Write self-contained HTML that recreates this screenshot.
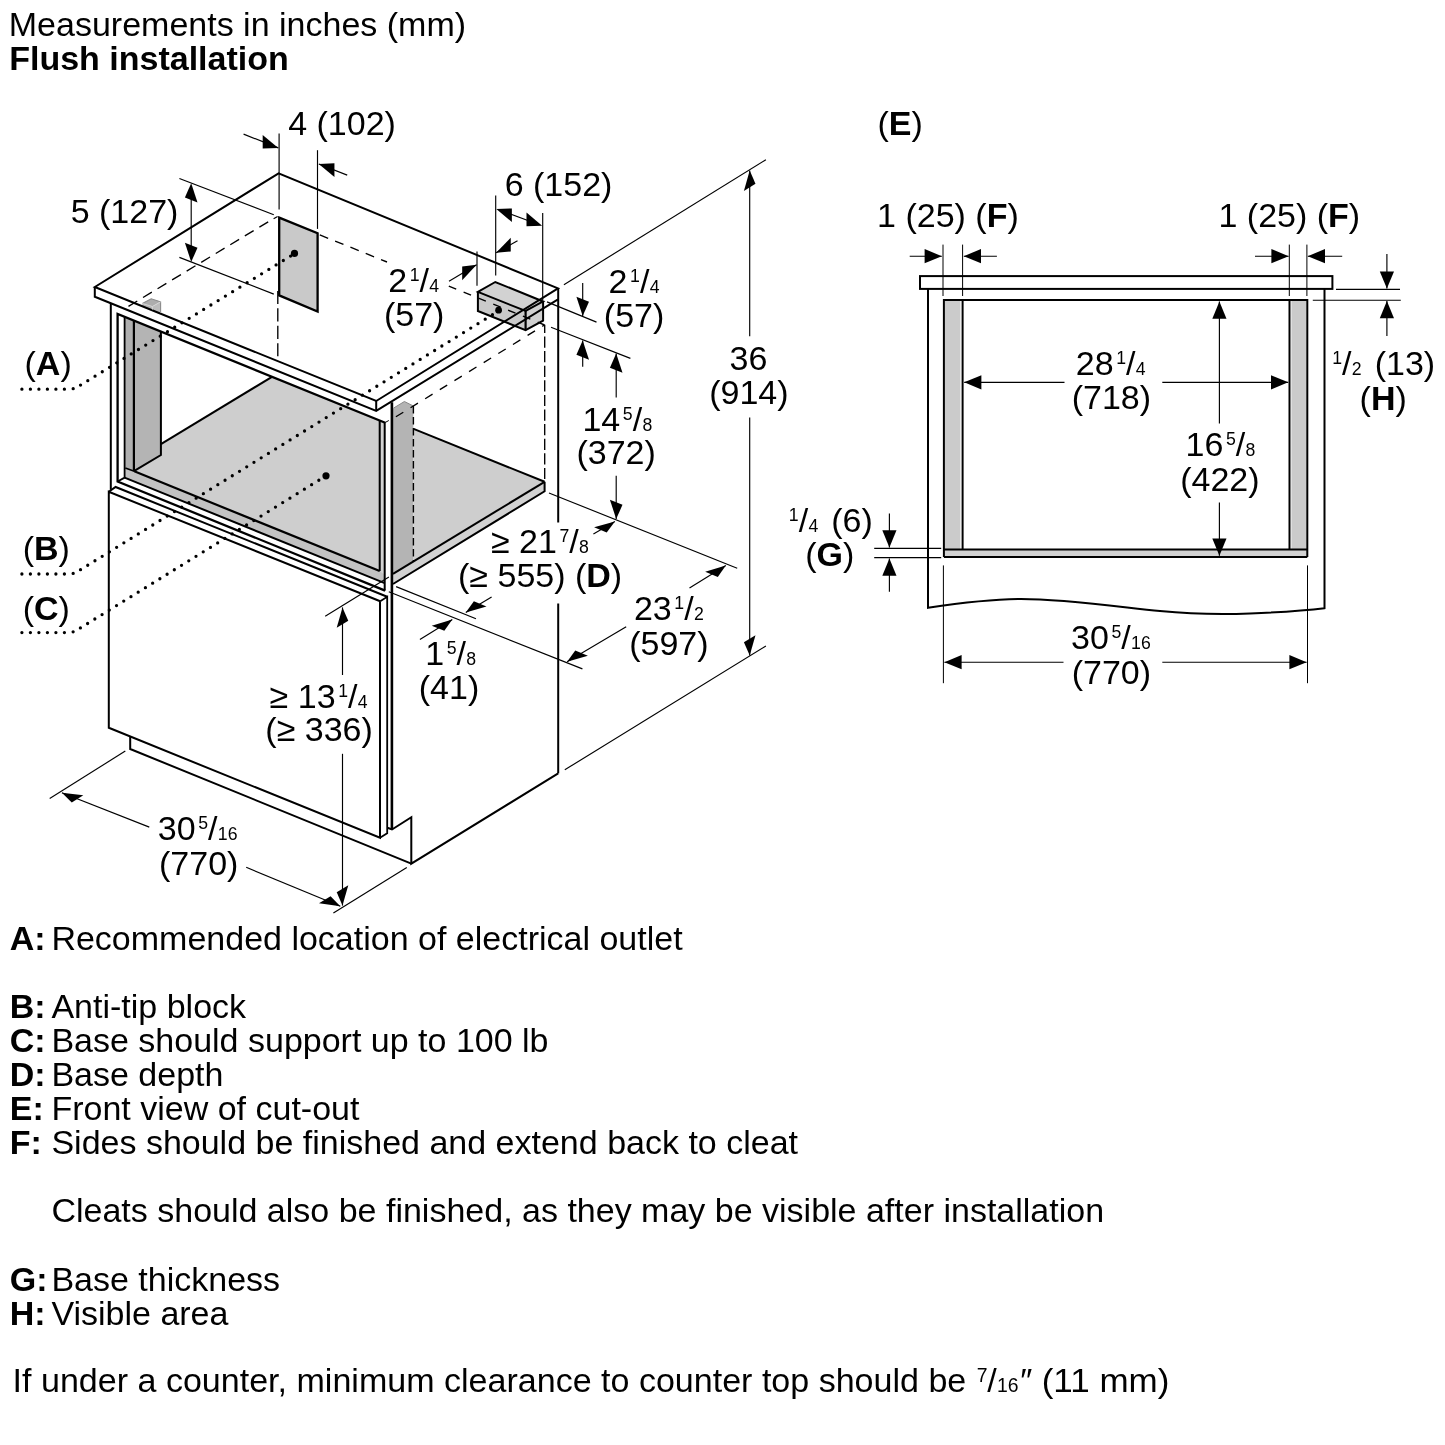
<!DOCTYPE html>
<html><head><meta charset="utf-8"><title>Flush installation</title>
<style>
html,body{margin:0;padding:0;background:#fff;}
svg{display:block;}
text{font-family:"Liberation Sans",sans-serif;fill:#000;white-space:pre;}
</style></head><body>
<svg width="1445" height="1445" viewBox="0 0 1445 1445">
<rect width="1445" height="1445" fill="#fff"/>
<g id="iso">
<polygon points="279.20,217.60 317.60,233.30 317.60,311.60 279.20,295.40" fill="#c9c9c9" stroke="none"/>
<polygon points="161.00,444.20 272.00,376.80 379.70,420.80 379.70,571.10 134.30,471.20 161.00,455.20" fill="#cecece" stroke="none"/>
<polygon points="125.30,467.80 134.30,471.20 379.70,571.10 384.70,573.20 384.70,583.10 124.60,477.50" fill="#c2c2c2" stroke="none"/>
<polygon points="379.70,421.00 384.70,423.00 384.70,575.00 379.70,571.10" fill="#d4d4d4" stroke="none"/>
<polygon points="124.60,316.70 133.90,320.50 133.90,471.10 125.30,467.80 124.60,467.50" fill="#b0b0b0" stroke="none"/>
<polygon points="133.90,320.50 160.90,331.50 160.90,455.20 133.90,471.10" fill="#b4b4b4" stroke="none"/>
<polygon points="142.40,303.50 151.20,298.80 160.60,301.80 152.40,306.50" fill="#adadad" stroke="none"/>
<polygon points="152.40,306.50 160.60,301.80 160.60,314.00 152.40,317.00" fill="#bcbcbc" stroke="none"/>
<polygon points="142.40,303.50 152.40,306.50 152.40,317.00 142.40,312.00" fill="#b4b4b4" stroke="none"/>
<polygon points="393.00,408.40 404.40,401.50 413.40,406.00 413.40,561.30 393.00,573.80" fill="#b4b4b4" stroke="none"/>
<polygon points="413.40,429.00 544.60,481.80 413.40,561.30" fill="#cecece" stroke="none"/>
<polygon points="544.60,481.80 544.60,491.30 393.00,584.00 393.00,573.80" fill="#d2d2d2" stroke="none"/>
<polygon points="477.90,291.90 495.30,282.00 543.10,301.50 525.60,311.00" fill="#d2d2d2" stroke="none"/>
<polygon points="477.90,291.90 525.60,311.00 525.60,330.10 477.90,311.00" fill="#cacaca" stroke="none"/>
<polygon points="525.60,311.00 543.10,301.50 543.10,320.60 525.60,330.10" fill="#d0d0d0" stroke="none"/>
<polygon points="94.80,287.00 376.20,401.00 376.20,410.90 94.80,296.80" fill="#fff" stroke="none"/>
<polygon points="94.80,287.00 278.60,173.30 558.00,288.40 376.20,401.00" fill="none" stroke="#000" stroke-width="2.0" stroke-linejoin="miter"/>
<polyline points="94.80,287.00 94.80,296.80 376.20,410.90 558.00,299.40" fill="none" stroke="#000" stroke-width="2.0" stroke-linejoin="miter"/>
<line x1="376.20" y1="401.00" x2="376.20" y2="410.90" stroke="#000" stroke-width="2.0"/>
<line x1="558.20" y1="288.40" x2="558.20" y2="522.50" stroke="#000" stroke-width="2.0"/>
<line x1="558.20" y1="603.50" x2="558.20" y2="773.40" stroke="#000" stroke-width="2.0"/>
<polyline points="558.20,773.40 411.30,863.60 411.30,817.20 392.00,829.50 387.40,827.70" fill="none" stroke="#000" stroke-width="2.0" stroke-linejoin="miter"/>
<polyline points="411.30,863.60 130.20,749.00 130.20,737.00" fill="none" stroke="#000" stroke-width="2.0" stroke-linejoin="miter"/>
<line x1="110.80" y1="303.30" x2="110.80" y2="489.80" stroke="#000" stroke-width="2.0"/>
<polyline points="385.20,422.80 117.60,313.90 117.60,481.50 385.10,590.60" fill="none" stroke="#000" stroke-width="2.3" stroke-linejoin="miter"/>
<polyline points="124.60,316.80 124.60,477.60 117.60,481.50" fill="none" stroke="#000" stroke-width="1.8" stroke-linejoin="miter"/>
<line x1="133.90" y1="320.50" x2="133.90" y2="471.10" stroke="#000" stroke-width="2.2"/>
<polyline points="133.90,471.10 160.90,455.00 160.90,331.60" fill="none" stroke="#000" stroke-width="2.0" stroke-linejoin="miter"/>
<line x1="125.30" y1="467.90" x2="134.30" y2="471.30" stroke="#000" stroke-width="1.6"/>
<line x1="160.90" y1="444.20" x2="272.00" y2="376.80" stroke="#000" stroke-width="2.0"/>
<line x1="134.30" y1="471.30" x2="379.70" y2="571.10" stroke="#000" stroke-width="2.2"/>
<line x1="124.60" y1="477.60" x2="384.70" y2="583.10" stroke="#000" stroke-width="2.0"/>
<line x1="379.70" y1="420.90" x2="379.70" y2="571.10" stroke="#000" stroke-width="2.0"/>
<line x1="384.70" y1="422.80" x2="384.70" y2="590.60" stroke="#000" stroke-width="2.0"/>
<polyline points="108.80,491.80 115.60,487.00 387.20,596.80" fill="none" stroke="#000" stroke-width="2.0" stroke-linejoin="miter"/>
<polyline points="380.20,601.20 108.80,491.80 108.80,727.80 380.00,837.80 380.00,601.20" fill="none" stroke="#000" stroke-width="2.0" stroke-linejoin="miter"/>
<polyline points="380.20,601.20 387.20,596.80 387.20,833.20 380.00,837.80" fill="none" stroke="#000" stroke-width="1.8" stroke-linejoin="miter"/>
<line x1="391.90" y1="402.20" x2="391.90" y2="829.40" stroke="#000" stroke-width="2.6"/>
<polyline points="393.40,408.20 404.40,401.50 413.40,406.00" fill="none" stroke="#888" stroke-width="1.0" stroke-linejoin="miter"/>
<line x1="413.40" y1="406.00" x2="413.40" y2="561.00" stroke="#000" stroke-width="1.4" stroke-dasharray="7.5 3.5"/>
<line x1="413.60" y1="428.90" x2="544.60" y2="481.80" stroke="#000" stroke-width="2.0"/>
<polyline points="544.60,481.80 544.60,491.30 393.00,584.00" fill="none" stroke="#000" stroke-width="2.0" stroke-linejoin="miter"/>
<line x1="544.60" y1="481.80" x2="393.00" y2="573.80" stroke="#000" stroke-width="2.0"/>
<line x1="385.00" y1="422.60" x2="388.80" y2="420.50" stroke="#000" stroke-width="1.0"/>
<polyline points="142.40,303.50 151.20,298.80 160.60,301.80 160.60,313.00" fill="none" stroke="#8a8a8a" stroke-width="1.1" stroke-linejoin="miter"/>
<polyline points="142.40,303.50 152.40,306.50 160.60,301.80" fill="none" stroke="#d4d4d4" stroke-width="1.0" stroke-linejoin="miter"/>
<line x1="152.40" y1="306.50" x2="152.40" y2="309.60" stroke="#d4d4d4" stroke-width="1.0"/>
<polygon points="279.20,217.60 317.60,233.30 317.60,311.60 279.20,295.40" fill="none" stroke="#000" stroke-width="2.3" stroke-linejoin="miter"/>
<polygon points="477.90,291.90 495.30,282.00 543.10,301.50 525.60,311.00" fill="none" stroke="#000" stroke-width="2.0" stroke-linejoin="miter"/>
<polyline points="477.90,291.90 477.90,311.00 525.60,330.10 543.10,320.60 543.10,301.50" fill="none" stroke="#000" stroke-width="2.0" stroke-linejoin="miter"/>
<line x1="525.60" y1="311.00" x2="525.60" y2="330.10" stroke="#000" stroke-width="2.2"/>
<circle cx="498.6" cy="310.2" r="3.4" fill="#000"/>
<line x1="268.20" y1="221.80" x2="127.50" y2="306.90" stroke="#000" stroke-width="1.35" stroke-dasharray="10.3 6.7"/>
<line x1="277.60" y1="216.40" x2="273.60" y2="218.80" stroke="#000" stroke-width="1.15"/>
<line x1="319.80" y1="234.90" x2="387.00" y2="262.00" stroke="#000" stroke-width="1.35" stroke-dasharray="9 7.5"/>
<line x1="448.80" y1="286.10" x2="544.50" y2="325.00" stroke="#000" stroke-width="1.35" stroke-dasharray="8 8"/>
<line x1="277.80" y1="290.90" x2="277.80" y2="360.60" stroke="#000" stroke-width="1.35" stroke-dasharray="13.1 4.35"/>
<line x1="544.7" y1="324.8" x2="544.7" y2="481.7" stroke="#000" stroke-width="1.35" stroke-dasharray="11.2 3.4" stroke-dashoffset="2.9"/>
<line x1="395.90" y1="416.80" x2="544.50" y2="325.00" stroke="#000" stroke-width="1.35" stroke-dasharray="8.7 8.5"/>
</g>
<g id="leaders" fill="none" stroke="#000" stroke-width="3.3" stroke-linecap="round" stroke-dasharray="0 8.5">
<path d="M21.9,389.2 L68,389.2 Q73,389.2 76.5,387.6 L294.6,253.6"/>
<path d="M21.9,574 L68,574 Q73,574 76.5,572.2 L498.4,311"/>
<path d="M21.9,632.6 L67,632.6 Q72,632.6 75.5,631 L326,475.8"/>
</g>
<circle cx="294.5" cy="253.4" r="3.6" fill="#000"/>
<circle cx="326" cy="475.8" r="3.6" fill="#000"/>
<g id="dimsL">
<line x1="279.10" y1="133.40" x2="279.10" y2="209.50" stroke="#000" stroke-width="1.15"/>
<line x1="317.50" y1="150.20" x2="317.50" y2="228.90" stroke="#000" stroke-width="1.15"/>
<line x1="243.60" y1="134.10" x2="278.30" y2="147.90" stroke="#000" stroke-width="1.15"/>
<polygon points="278.30,147.90 262.69,148.49 262.69,134.89" fill="#000" stroke="none"/>
<line x1="347.20" y1="175.10" x2="318.80" y2="164.00" stroke="#000" stroke-width="1.15"/>
<polygon points="318.80,164.00 334.45,176.92 334.45,163.32" fill="#000" stroke="none"/>
<line x1="179.40" y1="178.50" x2="273.80" y2="214.80" stroke="#000" stroke-width="1.15"/>
<line x1="179.40" y1="257.40" x2="273.80" y2="294.10" stroke="#000" stroke-width="1.15"/>
<line x1="191.20" y1="190.00" x2="191.20" y2="255.00" stroke="#000" stroke-width="1.15"/>
<polygon points="191.20,183.20 197.50,202.55 184.90,197.45" fill="#000" stroke="none"/>
<polygon points="191.20,262.00 197.50,247.75 184.90,242.65" fill="#000" stroke="none"/>
<line x1="495.70" y1="195.50" x2="495.70" y2="275.40" stroke="#000" stroke-width="1.15"/>
<line x1="542.70" y1="213.00" x2="542.70" y2="300.00" stroke="#000" stroke-width="1.15"/>
<line x1="477.00" y1="251.60" x2="477.00" y2="285.80" stroke="#000" stroke-width="1.15"/>
<line x1="500.00" y1="210.20" x2="538.00" y2="224.20" stroke="#000" stroke-width="1.15"/>
<polygon points="496.30,208.90 511.87,222.02 511.87,208.42" fill="#000" stroke="none"/>
<polygon points="542.10,225.70 526.53,226.18 526.53,212.58" fill="#000" stroke="none"/>
<line x1="517.50" y1="240.80" x2="496.10" y2="252.80" stroke="#000" stroke-width="1.15"/>
<polygon points="496.10,252.80 510.75,251.38 510.75,237.78" fill="#000" stroke="none"/>
<line x1="449.00" y1="281.20" x2="476.60" y2="264.80" stroke="#000" stroke-width="1.15"/>
<polygon points="476.60,264.80 462.16,280.18 462.16,266.58" fill="#000" stroke="none"/>
<line x1="547.00" y1="301.90" x2="596.50" y2="322.10" stroke="#000" stroke-width="1.15"/>
<line x1="551.00" y1="327.30" x2="630.40" y2="358.40" stroke="#000" stroke-width="1.15"/>
<line x1="582.70" y1="283.00" x2="582.70" y2="316.00" stroke="#000" stroke-width="1.15"/>
<polygon points="582.70,316.00 589.00,301.75 576.40,296.65" fill="#000" stroke="none"/>
<line x1="582.70" y1="366.70" x2="582.70" y2="340.40" stroke="#000" stroke-width="1.15"/>
<polygon points="582.70,340.40 589.00,359.75 576.40,354.65" fill="#000" stroke="none"/>
<line x1="616.20" y1="397.40" x2="616.20" y2="353.40" stroke="#000" stroke-width="1.15"/>
<polygon points="616.20,353.40 622.50,372.75 609.90,367.65" fill="#000" stroke="none"/>
<line x1="616.20" y1="475.80" x2="616.20" y2="519.00" stroke="#000" stroke-width="1.15"/>
<polygon points="616.20,519.00 622.50,504.75 609.90,499.65" fill="#000" stroke="none"/>
<line x1="549.00" y1="493.00" x2="737.20" y2="568.20" stroke="#000" stroke-width="1.15"/>
<line x1="563.90" y1="284.70" x2="765.90" y2="159.70" stroke="#000" stroke-width="1.15"/>
<line x1="749.70" y1="336.20" x2="749.70" y2="170.60" stroke="#000" stroke-width="1.15"/>
<polygon points="749.70,170.60 755.49,183.83 743.91,190.97" fill="#000" stroke="none"/>
<line x1="749.70" y1="417.40" x2="749.70" y2="655.60" stroke="#000" stroke-width="1.15"/>
<polygon points="749.70,655.60 755.49,635.23 743.91,642.37" fill="#000" stroke="none"/>
<line x1="765.90" y1="646.00" x2="564.80" y2="769.80" stroke="#000" stroke-width="1.15"/>
<line x1="593.40" y1="534.00" x2="614.90" y2="521.40" stroke="#000" stroke-width="1.15"/>
<polygon points="614.90,521.40 606.71,532.45 594.10,527.34" fill="#000" stroke="none"/>
<line x1="396.10" y1="586.60" x2="476.00" y2="618.80" stroke="#000" stroke-width="1.15"/>
<line x1="491.60" y1="597.00" x2="465.80" y2="612.60" stroke="#000" stroke-width="1.15"/>
<polygon points="465.80,612.60 486.48,606.46 473.87,601.35" fill="#000" stroke="none"/>
<line x1="388.80" y1="591.80" x2="582.40" y2="668.90" stroke="#000" stroke-width="1.15"/>
<line x1="419.90" y1="639.50" x2="452.30" y2="619.40" stroke="#000" stroke-width="1.15"/>
<polygon points="452.30,619.40 444.33,630.81 431.72,625.70" fill="#000" stroke="none"/>
<line x1="689.50" y1="587.90" x2="725.80" y2="565.60" stroke="#000" stroke-width="1.15"/>
<polygon points="725.80,565.60 717.79,576.95 705.18,571.84" fill="#000" stroke="none"/>
<line x1="626.20" y1="626.70" x2="567.10" y2="661.70" stroke="#000" stroke-width="1.15"/>
<polygon points="567.10,661.70 587.86,655.69 575.25,650.59" fill="#000" stroke="none"/>
<line x1="325.20" y1="616.20" x2="388.90" y2="576.90" stroke="#000" stroke-width="1.15"/>
<line x1="342.50" y1="675.00" x2="342.50" y2="607.40" stroke="#000" stroke-width="1.15"/>
<polygon points="342.50,607.40 348.29,620.63 336.71,627.77" fill="#000" stroke="none"/>
<line x1="342.50" y1="753.80" x2="342.50" y2="905.60" stroke="#000" stroke-width="1.15"/>
<polygon points="342.50,905.60 348.29,885.23 336.71,892.37" fill="#000" stroke="none"/>
<line x1="406.80" y1="867.50" x2="333.40" y2="912.90" stroke="#000" stroke-width="1.15"/>
<line x1="125.30" y1="751.00" x2="49.70" y2="798.60" stroke="#000" stroke-width="1.15"/>
<line x1="149.30" y1="827.10" x2="61.90" y2="792.80" stroke="#000" stroke-width="1.15"/>
<polygon points="61.90,792.80 83.33,795.37 71.75,802.51" fill="#000" stroke="none"/>
<line x1="246.20" y1="867.30" x2="340.30" y2="906.20" stroke="#000" stroke-width="1.15"/>
<polygon points="340.30,906.20 330.56,896.21 318.99,903.35" fill="#000" stroke="none"/>
</g>
<g id="front">
<polygon points="945.00,301.00 960.40,301.00 960.40,549.30 945.00,549.30" fill="#cbcbcb" stroke="none"/>
<polygon points="1291.40,301.00 1306.40,301.00 1306.40,549.30 1291.40,549.30" fill="#cbcbcb" stroke="none"/>
<polygon points="944.00,549.30 1307.30,549.30 1307.30,557.00 944.00,557.00" fill="#d2d2d2" stroke="none"/>
<rect x="920" y="276.1" width="412.4" height="12.8" fill="none" stroke="#000" stroke-width="2"/>
<path d="M928,289 L928,607.8 C960,603 990,599 1021,599 C1065,599 1120,607 1160,611 C1190,614 1222,614.6 1250,613.5 C1285,612 1310,610 1324.5,608.2 L1324.5,289" fill="none" stroke="#000" stroke-width="2"/>
<polyline points="943.90,557.00 943.90,300.00 1307.30,300.00 1307.30,557.00" fill="none" stroke="#000" stroke-width="2.0" stroke-linejoin="miter"/>
<line x1="943.90" y1="557.00" x2="1307.30" y2="557.00" stroke="#000" stroke-width="2.0"/>
<line x1="943.90" y1="549.40" x2="1307.30" y2="549.40" stroke="#000" stroke-width="2.0"/>
<line x1="962.60" y1="300.00" x2="962.60" y2="549.40" stroke="#000" stroke-width="2.0"/>
<line x1="1289.50" y1="300.00" x2="1289.50" y2="549.40" stroke="#000" stroke-width="2.0"/>
</g>
<g id="dimsR">
<line x1="943.00" y1="244.60" x2="943.00" y2="296.00" stroke="#000" stroke-width="1.0"/>
<line x1="962.60" y1="244.60" x2="962.60" y2="296.00" stroke="#000" stroke-width="1.0"/>
<line x1="909.70" y1="256.20" x2="941.80" y2="256.20" stroke="#000" stroke-width="1.15"/>
<polygon points="941.80,256.20 924.60,263.30 924.60,249.10" fill="#000" stroke="none"/>
<line x1="996.90" y1="256.20" x2="963.80" y2="256.20" stroke="#000" stroke-width="1.15"/>
<polygon points="963.80,256.20 981.00,249.10 981.00,263.30" fill="#000" stroke="none"/>
<line x1="1289.30" y1="244.60" x2="1289.30" y2="296.00" stroke="#000" stroke-width="1.0"/>
<line x1="1306.90" y1="244.60" x2="1306.90" y2="296.00" stroke="#000" stroke-width="1.0"/>
<line x1="1255.00" y1="256.20" x2="1288.60" y2="256.20" stroke="#000" stroke-width="1.15"/>
<polygon points="1288.60,256.20 1271.40,263.30 1271.40,249.10" fill="#000" stroke="none"/>
<line x1="1342.20" y1="256.20" x2="1307.80" y2="256.20" stroke="#000" stroke-width="1.15"/>
<polygon points="1307.80,256.20 1325.00,249.10 1325.00,263.30" fill="#000" stroke="none"/>
<line x1="1336.00" y1="289.30" x2="1400.00" y2="289.30" stroke="#000" stroke-width="1.15"/>
<line x1="1312.80" y1="300.20" x2="1400.80" y2="300.20" stroke="#000" stroke-width="1.15"/>
<line x1="1386.90" y1="254.00" x2="1386.90" y2="288.60" stroke="#000" stroke-width="1.15"/>
<polygon points="1386.90,288.60 1379.80,271.40 1394.00,271.40" fill="#000" stroke="none"/>
<line x1="1386.90" y1="336.00" x2="1386.90" y2="301.00" stroke="#000" stroke-width="1.15"/>
<polygon points="1386.90,301.00 1394.00,318.20 1379.80,318.20" fill="#000" stroke="none"/>
<line x1="1064.50" y1="382.30" x2="964.20" y2="382.30" stroke="#000" stroke-width="1.15"/>
<polygon points="964.20,382.30 981.40,375.20 981.40,389.40" fill="#000" stroke="none"/>
<line x1="1162.30" y1="382.30" x2="1288.20" y2="382.30" stroke="#000" stroke-width="1.15"/>
<polygon points="1288.20,382.30 1271.00,389.40 1271.00,375.20" fill="#000" stroke="none"/>
<line x1="1219.40" y1="423.60" x2="1219.40" y2="301.60" stroke="#000" stroke-width="1.15"/>
<polygon points="1219.40,301.60 1226.50,318.80 1212.30,318.80" fill="#000" stroke="none"/>
<line x1="1219.40" y1="502.50" x2="1219.40" y2="555.80" stroke="#000" stroke-width="1.15"/>
<polygon points="1219.40,555.80 1212.30,538.60 1226.50,538.60" fill="#000" stroke="none"/>
<line x1="874.20" y1="548.40" x2="941.20" y2="548.40" stroke="#000" stroke-width="1.15"/>
<line x1="874.20" y1="557.60" x2="941.20" y2="557.60" stroke="#000" stroke-width="1.15"/>
<line x1="889.40" y1="513.60" x2="889.40" y2="547.40" stroke="#000" stroke-width="1.15"/>
<polygon points="889.40,547.40 882.30,530.20 896.50,530.20" fill="#000" stroke="none"/>
<line x1="889.40" y1="591.70" x2="889.40" y2="558.60" stroke="#000" stroke-width="1.15"/>
<polygon points="889.40,558.60 896.50,575.80 882.30,575.80" fill="#000" stroke="none"/>
<line x1="943.40" y1="565.40" x2="943.40" y2="683.20" stroke="#000" stroke-width="1.0"/>
<line x1="1307.50" y1="565.40" x2="1307.50" y2="683.20" stroke="#000" stroke-width="1.0"/>
<line x1="1063.50" y1="662.20" x2="944.40" y2="662.20" stroke="#000" stroke-width="1.15"/>
<polygon points="944.40,662.20 961.60,655.10 961.60,669.30" fill="#000" stroke="none"/>
<line x1="1162.30" y1="662.20" x2="1306.60" y2="662.20" stroke="#000" stroke-width="1.15"/>
<polygon points="1306.60,662.20 1289.40,669.30 1289.40,655.10" fill="#000" stroke="none"/>
</g>
<g id="txt" opacity="0.999">
<text transform="translate(8.8,35.8) scale(1.0,1)" font-size="34.0">Measurements in inches (mm)</text>
<text transform="translate(9.2,69.8) scale(1.0,1)" font-size="34.0" font-weight="bold">Flush installation</text>
<text transform="translate(342.0,135.0) scale(1.0,1)" font-size="34.0" text-anchor="middle">4 (102)</text>
<text transform="translate(124.5,223.0) scale(1.0,1)" font-size="34.0" text-anchor="middle">5 (127)</text>
<text transform="translate(558.5,196.0) scale(1.0,1)" font-size="34.0" text-anchor="middle">6 (152)</text>
<text transform="translate(413.6,292.0) scale(1.0,1)" font-size="34.0" text-anchor="middle">2<tspan font-size="17.68" dx="2.6" dy="-11.23">1</tspan><tspan dy="11.23">/</tspan><tspan font-size="17.68" dx="0.3">4</tspan></text>
<text transform="translate(414.2,326.0) scale(1.0,1)" font-size="34.0" text-anchor="middle">(57)</text>
<text transform="translate(634.0,293.0) scale(1.0,1)" font-size="34.0" text-anchor="middle">2<tspan font-size="17.68" dx="2.6" dy="-11.23">1</tspan><tspan dy="11.23">/</tspan><tspan font-size="17.68" dx="0.3">4</tspan></text>
<text transform="translate(634.1,327.0) scale(1.0,1)" font-size="34.0" text-anchor="middle">(57)</text>
<text transform="translate(617.3,431.0) scale(1.0,1)" font-size="34.0" text-anchor="middle">14<tspan font-size="17.68" dx="2.6" dy="-11.23">5</tspan><tspan dy="11.23">/</tspan><tspan font-size="17.68" dx="0.3">8</tspan></text>
<text transform="translate(616.1,464.0) scale(1.0,1)" font-size="34.0" text-anchor="middle">(372)</text>
<text transform="translate(748.5,370.0) scale(1.0,1)" font-size="34.0" text-anchor="middle">36</text>
<text transform="translate(748.9,404.0) scale(1.0,1)" font-size="34.0" text-anchor="middle">(914)</text>
<text transform="translate(539.9,553.0) scale(1.0,1)" font-size="34.0" text-anchor="middle">≥ 21<tspan font-size="17.68" dx="2.6" dy="-11.23">7</tspan><tspan dy="11.23">/</tspan><tspan font-size="17.68" dx="0.3">8</tspan></text>
<text transform="translate(540.1,587.0) scale(1.0,1)" font-size="34.0" text-anchor="middle">(≥ 555) (<tspan font-weight="bold">D</tspan>)</text>
<text transform="translate(668.8,620.0) scale(1.0,1)" font-size="34.0" text-anchor="middle">23<tspan font-size="17.68" dx="2.6" dy="-11.23">1</tspan><tspan dy="11.23">/</tspan><tspan font-size="17.68" dx="0.3">2</tspan></text>
<text transform="translate(668.9,655.0) scale(1.0,1)" font-size="34.0" text-anchor="middle">(597)</text>
<text transform="translate(450.6,665.0) scale(1.0,1)" font-size="34.0" text-anchor="middle">1<tspan font-size="17.68" dx="2.6" dy="-11.23">5</tspan><tspan dy="11.23">/</tspan><tspan font-size="17.68" dx="0.3">8</tspan></text>
<text transform="translate(449.0,699.0) scale(1.0,1)" font-size="34.0" text-anchor="middle">(41)</text>
<text transform="translate(318.6,708.0) scale(1.0,1)" font-size="34.0" text-anchor="middle">≥ 13<tspan font-size="17.68" dx="2.6" dy="-11.23">1</tspan><tspan dy="11.23">/</tspan><tspan font-size="17.68" dx="0.3">4</tspan></text>
<text transform="translate(319.1,741.0) scale(1.0,1)" font-size="34.0" text-anchor="middle">(≥ 336)</text>
<text transform="translate(197.7,840.0) scale(1.0,1)" font-size="34.0" text-anchor="middle">30<tspan font-size="17.68" dx="2.6" dy="-11.23">5</tspan><tspan dy="11.23">/</tspan><tspan font-size="17.68" dx="0.3">16</tspan></text>
<text transform="translate(198.7,875.0) scale(1.0,1)" font-size="34.0" text-anchor="middle">(770)</text>
<text transform="translate(48.1,375.0) scale(1.0,1)" font-size="34.0" text-anchor="middle">(<tspan font-weight="bold">A</tspan>)</text>
<text transform="translate(46.3,560.0) scale(1.0,1)" font-size="34.0" text-anchor="middle">(<tspan font-weight="bold">B</tspan>)</text>
<text transform="translate(46.3,620.0) scale(1.0,1)" font-size="34.0" text-anchor="middle">(<tspan font-weight="bold">C</tspan>)</text>
<text transform="translate(900.2,135.0) scale(1.0,1)" font-size="34.0" text-anchor="middle">(<tspan font-weight="bold">E</tspan>)</text>
<text transform="translate(947.9,227.0) scale(1.0,1)" font-size="34.0" text-anchor="middle">1 (25) (<tspan font-weight="bold">F</tspan>)</text>
<text transform="translate(1289.3,227.0) scale(1.0,1)" font-size="34.0" text-anchor="middle">1 (25) (<tspan font-weight="bold">F</tspan>)</text>
<text transform="translate(1110.7,375.0) scale(1.0,1)" font-size="34.0" text-anchor="middle">28<tspan font-size="17.68" dx="2.6" dy="-11.23">1</tspan><tspan dy="11.23">/</tspan><tspan font-size="17.68" dx="0.3">4</tspan></text>
<text transform="translate(1111.4,409.0) scale(1.0,1)" font-size="34.0" text-anchor="middle">(718)</text>
<text transform="translate(1220.5,456.0) scale(1.0,1)" font-size="34.0" text-anchor="middle">16<tspan font-size="17.68" dx="2.6" dy="-11.23">5</tspan><tspan dy="11.23">/</tspan><tspan font-size="17.68" dx="0.3">8</tspan></text>
<text transform="translate(1219.9,491.0) scale(1.0,1)" font-size="34.0" text-anchor="middle">(422)</text>
<text transform="translate(1110.9,649.0) scale(1.0,1)" font-size="34.0" text-anchor="middle">30<tspan font-size="17.68" dx="2.6" dy="-11.23">5</tspan><tspan dy="11.23">/</tspan><tspan font-size="17.68" dx="0.3">16</tspan></text>
<text transform="translate(1111.4,684.0) scale(1.0,1)" font-size="34.0" text-anchor="middle">(770)</text>
<text transform="translate(1383.7,375.0) scale(1.0,1)" font-size="34.0" text-anchor="middle"><tspan font-size="17.68" dx="0" dy="-11.23">1</tspan><tspan dy="11.23">/</tspan><tspan font-size="17.68" dx="0.3">2</tspan><tspan dx="3.6"> (13)</tspan></text>
<text transform="translate(1383.2,410.0) scale(1.0,1)" font-size="34.0" text-anchor="middle">(<tspan font-weight="bold">H</tspan>)</text>
<text transform="translate(830.8,532.0) scale(1.0,1)" font-size="34.0" text-anchor="middle"><tspan font-size="17.68" dx="0" dy="-11.23">1</tspan><tspan dy="11.23">/</tspan><tspan font-size="17.68" dx="0.3">4</tspan><tspan dx="3.6"> (6)</tspan></text>
<text transform="translate(829.7,566.0) scale(1.0,1)" font-size="34.0" text-anchor="middle">(<tspan font-weight="bold">G</tspan>)</text>
<text transform="translate(9.8,949.8) scale(1.0,1)" font-size="34.0" font-weight="bold">A:</text>
<text transform="translate(51.4,949.8) scale(1.0,1)" font-size="34.0">Recommended location of electrical outlet</text>
<text transform="translate(9.8,1018.0) scale(1.0,1)" font-size="34.0" font-weight="bold">B:</text>
<text transform="translate(51.4,1018.0) scale(1.0,1)" font-size="34.0">Anti-tip block</text>
<text transform="translate(9.8,1052.0) scale(1.0,1)" font-size="34.0" font-weight="bold">C:</text>
<text transform="translate(51.4,1052.0) scale(1.0,1)" font-size="34.0">Base should support up to 100 lb</text>
<text transform="translate(9.8,1085.9) scale(1.0,1)" font-size="34.0" font-weight="bold">D:</text>
<text transform="translate(51.4,1085.9) scale(1.0,1)" font-size="34.0">Base depth</text>
<text transform="translate(9.8,1119.8) scale(1.0,1)" font-size="34.0" font-weight="bold">E:</text>
<text transform="translate(51.4,1119.8) scale(1.0,1)" font-size="34.0">Front view of cut-out</text>
<text transform="translate(9.8,1153.7) scale(1.0,1)" font-size="34.0" font-weight="bold">F:</text>
<text transform="translate(51.4,1153.7) scale(1.0,1)" font-size="34.0">Sides should be finished and extend back to cleat</text>
<text transform="translate(51.4,1221.5) scale(1.0,1)" font-size="34.0">Cleats should also be finished, as they may be visible after installation</text>
<text transform="translate(9.8,1290.8) scale(1.0,1)" font-size="34.0" font-weight="bold">G:</text>
<text transform="translate(51.4,1290.8) scale(1.0,1)" font-size="34.0">Base thickness</text>
<text transform="translate(9.8,1324.5) scale(1.0,1)" font-size="34.0" font-weight="bold">H:</text>
<text transform="translate(51.4,1324.5) scale(1.0,1)" font-size="34.0">Visible area</text>
<text transform="translate(12.6,1392.0) scale(1.0015,1)" font-size="34.0">If under a counter, minimum clearance to counter top should be</text>
<text transform="translate(976.7,1381.9) scale(1.0,1)" font-size="19.38">7</text>
<text transform="translate(987.3,1392.0) scale(1.0,1)" font-size="34.0">/</text>
<text transform="translate(997.0,1392.0) scale(1.0,1)" font-size="19.38">16</text>
<text transform="translate(1020.3,1392.0) scale(1.0,1)" font-size="34.0">″</text>
<text transform="translate(1041.7,1392.0) scale(1.03,1)" font-size="34.0">(11 mm)</text>
</g>
</svg>
</body></html>
